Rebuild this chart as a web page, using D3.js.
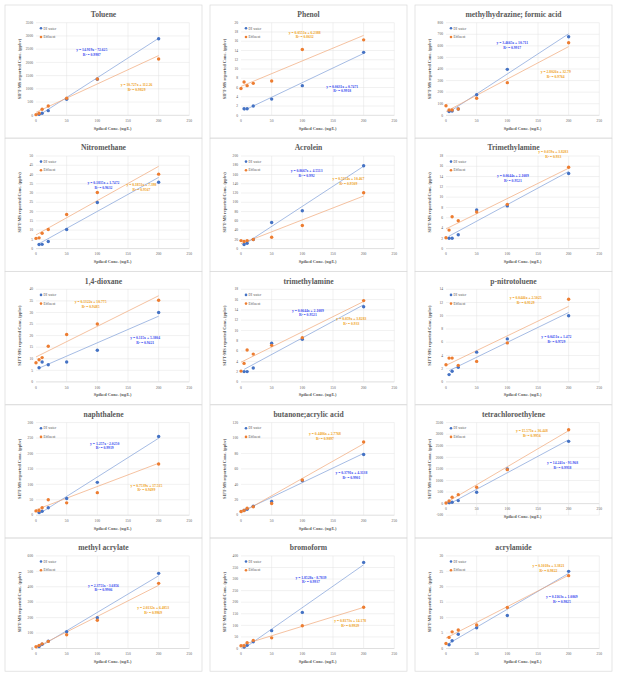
<!DOCTYPE html>
<html><head><meta charset="utf-8">
<script src="https://cdn.jsdelivr.net/npm/d3@7"></script>
<style>html,body{margin:0;padding:0;background:#fff;}svg{display:block;}</style>
</head><body><svg id="c" width="621" height="678"></svg>
<script>
const titles = ["Toluene","Phenol","methylhydrazine; formic acid","Nitromethane","Acrolein","Trimethylamine","1,4-dioxane","trimethylamine","p-nitrotoluene","naphthalene","butanone;acrylic acid","tetrachloroethylene","methyl acrylate","bromoform","acrylamide"];
const xDI = [5,10,20,50,100,200];
const xEff = [0,5,10,20,50,100,200];
const xTicks = [0,50,100,150,200,250];
const diValues = [
 [40,75,176,604,1360,2896],
 [1.4,1.4,2.0,3.5,6.4,13.6],
 [32,37,55,178,397,679],
 [2.2,2.3,3.8,10.3,24.9,35.8],
 [8.7,11.5,19.5,56.3,81.6,179],
 [2.0,2.0,2.7,7.5,8.3,14.6],
 [6.1,8.6,7.4,8.6,13.7,30.0],
 [2.0,2.0,2.7,7.5,8.3,14.6],
 [1.1,1.6,2.2,4.5,6.5,10.0],
 [8.7,13,24,54,106.5,255],
 [6.1,7.8,11.7,17.8,44.8,78.7],
 [43,58,130,489,1496,2690],
 [13,28,48,109,200,487],
 [6,14,29,77,156,372],
 [1.2,2.5,4.6,6.7,10.7,25.0]
];
const effValues = [
 [25,75,227,352,642,1372,2128],
 [5.8,7.2,6.4,6.9,7.4,14.2,16.3],
 [83,46,46,55,147,282,627],
 [5.5,5.8,8.3,10.3,18.4,30.3,40.2],
 [17.3,15.2,17.3,19.5,24.5,49.8,120.6],
 [2.1,3.6,6.2,5.4,7.1,8.6,15.8],
 [8.3,9.6,10.5,15.4,20.5,25.0,35.3],
 [2.1,3.6,6.2,5.4,7.1,8.6,15.8],
 [2.6,3.6,3.6,2.5,3.1,5.9,12.5],
 [14,15,24,50,40,73,166],
 [4.8,6.1,9.1,10.9,15.2,45.7,94.8],
 [29,115,273,388,705,1468,3194],
 [11,20,30,46,89,183,422],
 [12,12,25,35,46,98,178],
 [1.6,3.6,5.4,6.0,7.6,13.3,23.6]
];
const yMin = [0,0,0,0,0,0,0,0,0,0,0,-500,0,0,0];
const yMax = [3500,20,800,50,200,18,40,18,14,300,120,3500,600,400,30];
const yStep = [500,2,100,5,20,2,5,2,2,50,20,500,100,50,5];
const diEq = ["y = 14.919x - 72.625","y = 0.0631x + 0.7471","y = 3.4665x + 10.711","y = 0.1835x + 1.7472","y = 0.8667x + 4.5513","y = 0.0644x + 2.1089","y = 0.115x + 5.3804","y = 0.0644x + 2.1089","y = 0.0451x + 1.472","y = 1.257x - 2.0250","y = 0.3791x + 4.3138","y = 14.241x - 91.968","y = 2.3751x - 3.6856","y = 1.8528x - 8.7839","y = 0.1163x + 1.0869"];
const diR2 = ["R² = 0.9987","R² = 0.9918","R² = 0.9917","R² = 0.9632","R² = 0.992","R² = 0.9521","R² = 0.9421","R² = 0.9521","R² = 0.9729","R² = 0.9919","R² = 0.9901","R² = 0.9918","R² = 0.9906","R² = 0.9937","R² = 0.9825"];
const effEq = ["y = 10.727x + 112.26","y = 0.0551x + 6.2388","y = 2.8026x + 32.79","y = 0.1851x + 7.398","y = 0.5154x + 10.467","y = 0.059x + 3.8283","y = 0.1322x + 10.775","y = 0.059x + 3.8283","y = 0.0446x + 2.5025","y = 0.7539x + 17.515","y = 0.4486x + 2.7768","y = 15.571x + 36.448","y = 2.0132x + 6.4853","y = 0.8173x + 14.178","y = 0.1018x + 3.3821"];
const effR2 = ["R² = 0.9829","R² = 0.8632","R² = 0.9764","R² = 0.9567","R² = 0.9509","R² = 0.933","R² = 0.9485","R² = 0.933","R² = 0.9129","R² = 0.9499","R² = 0.9897","R² = 0.9956","R² = 0.9969","R² = 0.9929","R² = 0.9822"];
// label anchor positions in data units (x, y)
const diLabelAt = [[91,2468],[165,6.26],[108,627],[110,35.5],[107,167.5],[109,14.1],[178,18.9],[109,13.9],[180,6.8],[112,232.6],[180,54.3],[190,1745],[110,408.7],[114,307],[189,16.8]];
const effLabelAt = [[164,1146],[104,17.9],[179,377],[172,34.2],[175,150],[175,18.8],[89,34.5],[180,12.2],[130,12.7],[180,96.7],[137,105.6],[140,3126],[191,261],[178,118.8],[167,26.7]];

const seriesNames = ["DI water","Effluent"];
const markerColors = ["#4472C4","#ED7D31"];
const lineColors = ["#7f9fd8","#f1a878"];
const eqColors = ["#3a4df0","#f0a21c"];

function parseEq(s){
  const m = s.match(/y = ([\d.]+)x ([+-]) ([\d.]+)/);
  return {m:+m[1], b:(m[2]==="-"?-1:1)*(+m[3])};
}

const svg = d3.select("#c");
const colX = [5,210,415];
const PW = 197, PH = 133;
const serif = "'Liberation Serif','Times New Roman',serif";

titles.forEach((t,i)=>{
  const col = i%3, row = Math.floor(i/3);
  const g = svg.append("g").attr("transform",`translate(${colX[col]},${5+row*133.3})`);
  g.append("rect").attr("x",0).attr("y",0).attr("width",PW).attr("height",PH)
    .attr("fill","#fff").attr("stroke","#d9d9d9").attr("stroke-width",0.7);
  const x = d3.scaleLinear().domain([0,250]).range([31,184.3]);
  const y = d3.scaleLinear().domain([yMin[i],yMax[i]]).range([110.3,17.7]);
  const yt = d3.range(yMin[i], yMax[i]+yStep[i]/2, yStep[i]);
  // gridlines
  g.append("g").selectAll("line.h").data(yt).join("line")
    .attr("x1",x(0)).attr("x2",x(250)).attr("y1",d=>y(d)).attr("y2",d=>y(d))
    .attr("stroke",d=>d===0?"#bfbfbf":"#e3e3e3").attr("stroke-width",0.5);
  g.append("g").selectAll("line.v").data(xTicks.slice(1)).join("line")
    .attr("x1",d=>x(d)).attr("x2",d=>x(d)).attr("y1",y(yMin[i])).attr("y2",y(yMax[i]))
    .attr("stroke","#e3e3e3").attr("stroke-width",0.5);
  // y tick labels
  g.append("g").selectAll("text").data(yt).join("text")
    .attr("x",28).attr("y",d=>y(d)+1.2).attr("text-anchor","end")
    .attr("font-family",serif).attr("font-size",3.6).attr("fill","#595959").text(d=>d);
  // x tick labels (next to the y=0 axis)
  const y0 = y(0);
  g.append("g").selectAll("text").data(xTicks).join("text")
    .attr("x",d=>x(d)).attr("y",y0+6.8).attr("text-anchor","middle")
    .attr("font-family",serif).attr("font-size",3.6).attr("fill","#595959").text(d=>d);
  // axis titles
  g.append("text").attr("x",(x(0)+x(250))/2).attr("y",y0+14.5).attr("text-anchor","middle")
    .attr("font-family",serif).attr("font-size",4.4).attr("font-weight","bold").attr("fill","#595959")
    .text("Spiked Conc. (ug/L)");
  g.append("text").attr("transform",`translate(15.5,${(y(yMin[i])+y(yMax[i]))/2}) rotate(-90)`)
    .attr("text-anchor","middle").attr("font-family",serif).attr("font-size",4.4)
    .attr("font-weight","bold").attr("fill","#595959").text("SIFT-MS reported Conc. (ppbv)");
  // title
  g.append("text").attr("x",PW/2).attr("y",12).attr("text-anchor","middle")
    .attr("font-family",serif).attr("font-size",7.6).attr("font-weight","bold").attr("fill","#595959").text(t);
  // series
  const series = [
    {xs:xDI, ys:diValues[i], eq:diEq[i], r2:diR2[i], at:diLabelAt[i]},
    {xs:xEff, ys:effValues[i], eq:effEq[i], r2:effR2[i], at:effLabelAt[i]}
  ];
  series.forEach((s,k)=>{
    const p = parseEq(s.eq);
    const x1 = d3.min(s.xs), x2 = d3.max(s.xs);
    g.append("line").attr("x1",x(x1)).attr("x2",x(x2)).attr("y1",y(p.m*x1+p.b)).attr("y2",y(p.m*x2+p.b))
      .attr("stroke",lineColors[k]).attr("stroke-width",0.7);
  });
  series.forEach((s,k)=>{
    g.append("g").selectAll("circle").data(s.xs.map((xv,j)=>[xv,s.ys[j]])).join("circle")
      .attr("cx",d=>x(d[0])).attr("cy",d=>y(d[1])).attr("r",1.7).attr("fill",markerColors[k]);
  });
  series.forEach((s,k)=>{
    const lx = x(s.at[0]), ly = y(s.at[1]);
    const tg = g.append("text").attr("text-anchor","middle").attr("font-family",serif)
      .attr("font-size",3.7).attr("font-weight","bold").attr("fill",eqColors[k]);
    tg.append("tspan").attr("x",lx).attr("y",ly+1.2).text(s.eq);
    tg.append("tspan").attr("x",lx).attr("y",ly+5.9).text(s.r2);
  });
  // legend
  seriesNames.forEach((n,k)=>{
    g.append("circle").attr("cx",36).attr("cy",23.3+k*8.7).attr("r",1.3).attr("fill",markerColors[k]);
    g.append("text").attr("x",38.5).attr("y",24.5+k*8.7).attr("font-family",serif)
      .attr("font-size",3.6).attr("fill","#595959").text(n);
  });
});
</script></body></html>
